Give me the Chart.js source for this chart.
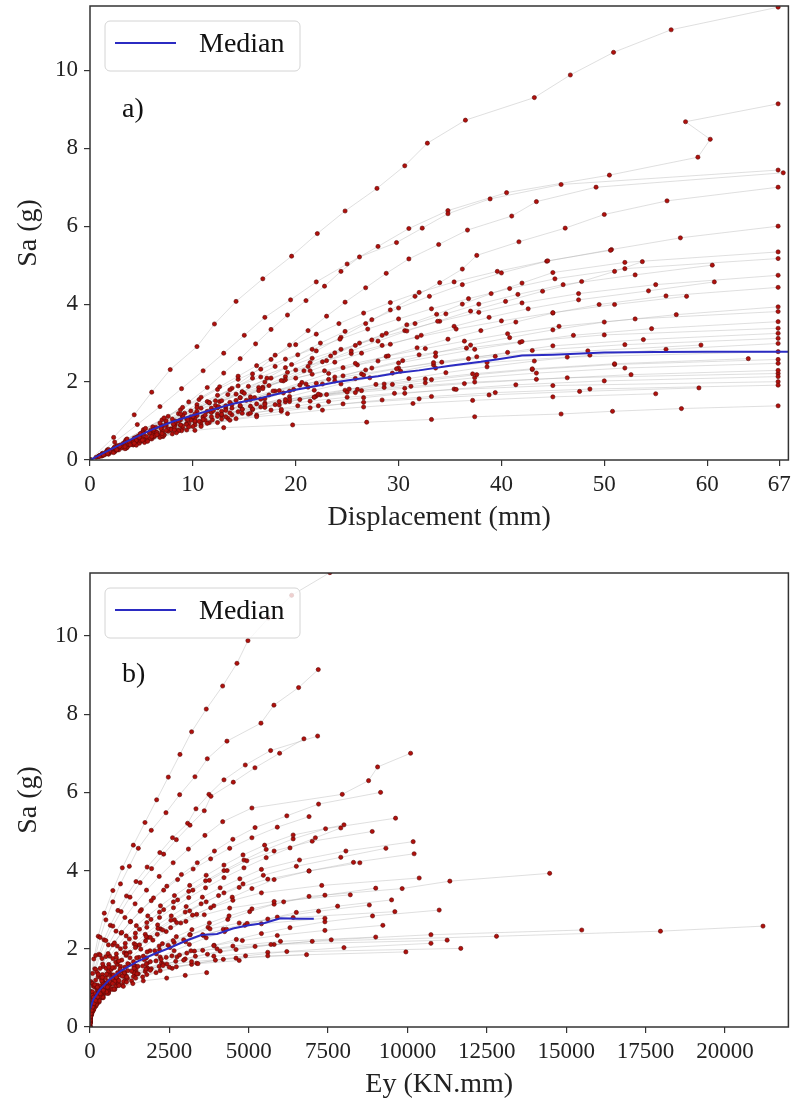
<!doctype html>
<html lang="en">
<head>
<meta charset="utf-8">
<title>IDA curves</title>
<style>
  body { margin: 0; background: #fff; }
  #caixa { position: relative; width: 793px; height: 1101px; }
  canvas { position: absolute; left: 0; }
</style>
</head>
<body>
<div id="caixa">
  <canvas id="grafico-desl" width="793" height="540" style="top:0"></canvas>
  <canvas id="grafico-energia" width="793" height="561" style="top:540px"></canvas>
</div>

<script src="https://cdn.jsdelivr.net/npm/chart.js"></script>
<script>
// Sa levels of each record (g)
const saLevels = [
  [0,.58,1.16,1.74,2.32,2.91,3.49,4.07,4.65,5.23,5.81,6.39,6.97,7.55,8.13,8.72,9.3,9.88,10.46,11.04,11.62],
  [0,.46,.91,1.37,1.83,2.29,2.74,3.2,3.66,4.11,4.57,5.03,5.48,5.94,6.4,6.86,7.31,7.77,8.23,8.68,9.14],
  [0,.37,.74,1.12,1.49,1.86,2.23,2.6,2.98,3.35,3.72,4.09,4.46,4.84,5.21,5.58,5.95,6.32,6.7,7.07,7.44],
  [0,.37,.74,1.11,1.47,1.84,2.21,2.58,2.95,3.32,3.69,4.05,4.42,4.79,5.16,5.53,5.9,6.26,6.63,7.0,7.37],
  [0,.35,.7,1.05,1.4,1.75,2.1,2.45,2.8,3.15,3.5,3.85,4.2,4.55,4.9,5.25,5.6,5.95,6.3,6.65,7.0],
  [0,.3,.6,.9,1.2,1.5,1.8,2.1,2.4,2.7,3.0,3.3,3.6,3.9,4.2,4.5,4.8,5.1,5.4,5.7,6.0],
  [0,.27,.53,.8,1.07,1.34,1.6,1.87,2.14,2.4,2.67,2.94,3.2,3.47,3.74,4.0,4.27,4.54,4.81,5.07,5.34],
  [0,.26,.52,.78,1.03,1.29,1.55,1.81,2.07,2.33,2.59,2.84,3.1,3.36,3.62,3.88,4.14,4.4,4.65,4.91,5.17],
  [0,.25,.5,.75,1.0,1.25,1.5,1.75,2.0,2.25,2.5,2.75,3.0,3.25,3.5,3.75,4.0,4.25,4.5,4.75,5.0],
  [0,.23,.46,.69,.91,1.14,1.37,1.6,1.83,2.06,2.29,2.51,2.74,2.97,3.2,3.43,3.66,3.88,4.11,4.34,4.57],
  [0,.24,.47,.71,.95,1.19,1.42,1.66,1.9,2.13,2.37,2.61,2.84,3.08,3.32,3.56,3.79,4.03,4.27,4.5,4.74],
  [0,.22,.44,.66,.89,1.11,1.33,1.55,1.77,1.99,2.22,2.44,2.66,2.88,3.1,3.32,3.54,3.77,3.99,4.21,4.43],
  [0,.21,.42,.63,.84,1.05,1.26,1.47,1.68,1.89,2.1,2.31,2.52,2.73,2.94,3.15,3.36,3.57,3.78,3.99,4.2],
  [0,.2,.39,.59,.79,.98,1.18,1.38,1.57,1.77,1.97,2.16,2.36,2.55,2.75,2.95,3.14,3.34,3.54,3.73,3.93],
  [0,.19,.38,.57,.76,.95,1.14,1.33,1.52,1.71,1.91,2.1,2.29,2.48,2.67,2.86,3.05,3.24,3.43,3.62,3.81],
  [0,.18,.36,.53,.71,.89,1.07,1.24,1.42,1.6,1.78,1.95,2.13,2.31,2.49,2.66,2.84,3.02,3.2,3.37,3.55],
  [0,.17,.34,.51,.68,.85,1.01,1.18,1.35,1.52,1.69,1.86,2.03,2.2,2.37,2.54,2.7,2.87,3.04,3.21,3.38],
  [0,.16,.33,.49,.65,.81,.98,1.14,1.3,1.46,1.63,1.79,1.95,2.11,2.28,2.44,2.6,2.76,2.93,3.09,3.25],
  [0,.15,.3,.44,.59,.74,.89,1.03,1.18,1.33,1.48,1.62,1.77,1.92,2.07,2.21,2.36,2.51,2.66,2.8,2.95],
  [0,.16,.31,.47,.62,.78,.94,1.09,1.25,1.4,1.56,1.72,1.87,2.03,2.18,2.34,2.5,2.65,2.81,2.96,3.12],
  [0,.15,.3,.45,.6,.75,.9,1.05,1.2,1.35,1.5,1.64,1.79,1.94,2.09,2.24,2.39,2.54,2.69,2.84,2.99],
  [0,.14,.28,.42,.56,.7,.83,.97,1.11,1.25,1.39,1.53,1.67,1.81,1.95,2.09,2.23,2.36,2.5,2.64,2.78],
  [0,.12,.25,.37,.5,.62,.74,.87,.99,1.12,1.24,1.36,1.49,1.61,1.74,1.86,1.98,2.11,2.23,2.36,2.48],
  [0,.13,.26,.39,.52,.65,.77,.9,1.03,1.16,1.29,1.42,1.55,1.68,1.81,1.94,2.06,2.19,2.32,2.45,2.58],
  [0,.11,.22,.33,.44,.56,.67,.78,.89,1.0,1.11,1.22,1.33,1.44,1.55,1.67,1.78,1.89,2.0,2.11,2.22],
  [0,.11,.21,.32,.43,.54,.64,.75,.86,.96,1.07,1.18,1.28,1.39,1.5,1.6,1.71,1.82,1.93,2.03,2.14],
  [0,.1,.2,.3,.4,.5,.6,.7,.8,.9,1.0,1.11,1.21,1.31,1.41,1.51,1.61,1.71,1.81,1.91,2.01],
  [0,.1,.19,.29,.38,.48,.58,.67,.77,.86,.96,1.06,1.15,1.25,1.34,1.44,1.54,1.63,1.73,1.82,1.92],
  [0,.07,.14,.21,.28,.35,.42,.49,.56,.63,.7,.76,.83,.9,.97,1.04,1.11,1.18,1.25,1.32,1.39],
  [0,.27,.54,.81,1.08,1.35,1.61,1.88,2.15,2.42,2.69,2.96,3.23,3.5,3.77,4.04,4.3,4.57,4.84,5.11,5.38],
  [0,.25,.51,.76,1.02,1.27,1.53,1.78,2.04,2.29,2.55,2.8,3.05,3.31,3.56,3.82,4.07,4.33,4.58,4.84,5.09],
  [0,.09,.19,.28,.37,.46,.56,.65,.74,.83,.93,1.02,1.11,1.2,1.3,1.39,1.48,1.57,1.67,1.76,1.85],
  [0,.12,.23,.35,.46,.58,.69,.81,.92,1.04,1.15,1.27,1.38,1.5,1.61,1.73,1.84,1.96,2.07,2.19,2.3],
  [0,.13,.26,.39,.52,.65,.78,.91,1.04,1.17,1.3,1.43,1.56,1.69,1.82,1.95,2.08,2.21,2.34,2.47,2.6],
  [0,.09,.17,.26,.34,.43,.51,.6,.68,.77,.85,.94,1.02,1.11,1.19,1.28,1.36,1.45,1.53,1.62,1.7]
];

// displacement of each record at those levels (mm)
const dispValues = [
  [0,2.3,4.3,6.0,7.8,10.4,12.1,14.2,16.8,19.6,22.1,24.8,27.9,30.6,32.8,36.5,43.2,46.7,50.9,56.5,66.9],
  [0,2.4,4.6,6.8,8.9,11.0,13.0,15.0,17.0,19.5,22.0,25.0,28.0,31.0,34.8,40.5,50.5,59.1,60.3,57.9,66.9],
  [0,2.6,5.2,7.6,9.6,11.4,13.0,14.6,16.1,17.6,19.2,21.0,22.8,24.4,26.2,29.8,32.3,34.8,38.9,45.8,66.9],
  [0,3.1,6.2,9.0,11.6,13.8,15.8,17.6,19.4,21.2,23.0,24.8,26.8,28.8,31.0,33.9,36.7,41.0,43.4,49.2,67.4],
  [0,3.2,6.4,9.4,12.2,14.8,17.2,19.6,22.0,24.4,26.8,29.2,31.6,34.0,36.2,37.6,41.7,46.2,50.0,56.1,66.9],
  [0,2.3,4.6,6.9,9.2,11.4,13.6,15.8,18.0,20.2,22.4,24.8,27.4,30.0,33.0,36.2,40.0,44.4,50.7,57.4,66.9],
  [0,2.7,5.3,7.9,10.2,12.4,14.6,16.8,19.0,21.2,23.4,25.8,28.4,30.8,33.7,36.2,39.0,42.0,45.0,52.0,66.9],
  [0,1.7,3.5,5.2,7.0,8.8,10.6,12.4,14.4,16.6,19.0,21.6,24.3,27.0,30.0,33.2,36.8,40.8,45.2,52.0,66.9],
  [0,2.1,4.2,6.2,8.3,10.4,12.6,14.8,17.0,19.2,21.4,23.8,26.2,28.8,31.6,34.6,37.8,41.6,46.0,53.0,60.5],
  [0,2.1,4.2,6.3,8.3,10.4,12.5,14.6,16.8,19.0,21.4,23.8,26.4,29.2,32.2,35.4,38.8,42.6,47.5,54.3,60.7],
  [0,1.7,3.4,5.1,6.8,8.6,10.4,12.4,14.4,16.6,19.0,21.6,24.4,27.4,30.6,34.0,37.8,42.0,47.5,55.0,66.9],
  [0,2.2,4.4,6.6,8.8,11.0,13.2,15.6,18.0,20.6,23.2,26.0,28.8,31.8,34.8,38.0,41.4,45.0,49.5,56.0,66.9],
  [0,1.6,3.2,4.8,6.4,8.0,9.8,11.6,13.4,15.4,17.6,20.0,22.6,25.4,28.4,31.8,35.6,40.0,45.0,51.0,58.0],
  [0,2.1,4.2,6.2,8.2,10.2,12.4,14.6,17.0,19.4,22.0,24.6,27.4,30.4,33.6,37.0,40.8,45.0,50.0,57.0,66.9],
  [0,1.5,2.9,4.4,5.9,7.4,9.0,10.8,12.8,15.0,17.4,20.0,22.8,25.8,29.0,32.6,36.4,40.6,45.6,53.0,66.9],
  [0,1.6,3.3,4.9,6.5,8.2,9.9,11.8,13.8,16.0,18.4,21.0,23.8,26.8,30.0,33.6,37.4,41.8,47.0,54.6,66.9],
  [0,1.2,2.4,3.6,4.9,6.1,7.4,8.8,10.4,12.2,14.2,16.4,18.8,21.6,24.6,28.0,32.0,36.6,42.0,50.0,66.9],
  [0,1.8,3.6,5.4,7.2,9.0,10.8,12.8,14.8,17.0,19.4,21.8,24.4,27.2,30.2,33.4,36.8,40.6,45.0,53.8,66.9],
  [0,1.2,2.5,3.7,4.9,6.2,7.4,8.8,10.2,11.8,13.6,15.6,17.8,20.4,23.2,26.4,30.0,34.2,39.4,48.4,59.4],
  [0,1.6,3.1,4.7,6.2,7.8,9.4,11.0,12.8,14.6,16.6,18.8,21.2,23.8,26.6,29.8,33.4,37.6,43.0,52.0,66.9],
  [0,1.8,3.5,5.3,7.1,8.9,10.8,12.8,14.8,17.0,19.4,22.0,24.8,27.8,31.0,34.6,38.6,43.2,48.6,56.0,66.9],
  [0,1.2,2.3,3.5,4.6,5.8,7.0,8.3,9.8,11.4,13.2,15.2,17.4,19.8,22.6,25.8,29.4,33.6,38.6,46.4,66.9],
  [0,1.2,2.5,3.7,5.0,6.3,7.6,9.0,10.6,12.4,14.4,16.6,19.0,21.8,25.0,28.6,32.6,37.4,43.4,52.0,66.9],
  [0,1.4,2.8,4.2,5.6,7.1,8.6,10.2,11.9,13.8,15.8,18.0,20.4,23.0,26.0,29.4,33.2,37.6,43.0,51.0,66.9],
  [0,.9,1.7,2.6,3.4,4.3,5.2,6.2,7.3,8.6,10.0,11.8,13.8,16.2,19.0,22.4,26.4,31.2,37.4,46.4,66.9],
  [0,1.2,2.4,3.6,4.8,6.0,7.2,8.6,10.0,11.6,13.4,15.4,17.6,20.2,23.2,26.6,30.6,35.4,41.4,50.0,66.9],
  [0,.9,1.8,2.7,3.6,4.5,5.5,6.5,7.6,8.8,10.2,11.8,13.6,15.8,18.4,21.4,25.0,29.6,35.6,45.0,66.9],
  [0,1.1,2.3,3.4,4.5,5.6,6.8,8.0,9.4,10.8,12.4,14.2,16.2,18.6,21.4,24.6,28.4,33.2,39.4,48.6,66.9],
  [0,.6,1.2,1.8,2.5,3.2,4.0,4.9,5.9,7.0,8.4,10.2,13.0,19.7,26.9,33.2,37.4,45.8,50.8,57.5,66.9],
  [0,1.8,3.6,5.4,7.2,9.0,10.8,12.6,14.4,16.2,18.0,20.0,22.0,24.2,26.6,29.2,32.0,35.4,39.6,44.5,50.6],
  [0,2.5,5.0,7.4,9.8,12.0,14.2,16.4,18.6,20.8,23.0,25.4,28.0,30.8,33.8,37.0,40.4,44.0,47.8,51.0,53.7],
  [0,.8,1.7,2.5,3.4,4.2,5.1,6.0,7.0,8.2,9.6,11.2,13.2,15.6,18.6,22.2,26.6,32.0,38.8,47.6,59.2],
  [0,1.0,1.9,2.9,3.8,4.8,5.8,6.9,8.1,9.5,11.2,13.2,15.6,18.4,21.8,25.8,30.6,36.4,43.4,52.6,66.9],
  [0,1.3,2.6,3.9,5.2,6.5,7.9,9.4,11.0,12.8,14.8,17.0,19.4,22.2,25.2,28.6,32.6,37.2,43.0,51.0,64.0],
  [0,.9,1.7,2.6,3.4,4.3,5.1,6.0,7.0,8.2,9.6,11.4,13.6,16.2,19.2,22.6,26.6,31.4,37.2,45.0,55.0]
];

// hysteretic energy of each record at those levels (KN.mm)
const eyValues = [
  [0,0,30,120,260,450,720,1018,1365,1732,2099,2467,2834,3201,3663,4178,4629,4975,5620,6352,7557],
  [0,0,20,80,180,320,500,720,960,1239,1522,1931,2393,2824,3306,3695,4314,5385,5794,6571,7190],
  [0,0,15,60,150,280,440,640,880,1150,1450,1800,2200,2600,3075,3338,3747,4220,4892,5690,7170],
  [0,0,20,80,180,320,500,720,980,1260,1580,1940,2320,2720,3150,3600,3810,4514,5196,5973,6739],
  [0,0,25,100,220,380,580,820,1100,1420,1780,2180,2620,3100,3620,4180,5100,7946,8775,9059,10098],
  [0,0,20,80,180,320,500,720,980,1280,1620,2000,2420,2880,3380,3920,4500,5200,6200,7200,9153],
  [0,0,30,110,230,390,590,830,1110,1430,1790,2190,2630,3110,3640,4220,4850,5550,6400,7421,9625],
  [0,0,15,60,140,260,420,620,860,1140,1460,1820,2220,2660,3140,3660,4220,4820,5500,6400,8000],
  [0,0,25,90,200,340,510,720,960,1240,1560,1920,2320,2760,3240,3760,4320,4940,5800,7000,8890],
  [0,0,35,120,250,420,620,860,1140,1460,1820,2220,2660,3140,3660,4220,4820,5460,6500,7900,9321],
  [0,0,30,110,230,390,580,810,1080,1390,1740,2130,2560,3030,3540,4100,4720,5400,6600,8061,10180],
  [0,0,40,140,290,480,700,960,1260,1600,1980,2400,2860,3360,3900,4480,5100,5800,6900,8300,10210],
  [0,0,25,90,190,320,480,670,890,1150,1440,1770,2140,2550,3000,3500,4050,4700,5600,6900,8500],
  [0,0,45,160,330,540,790,1080,1410,1780,2190,2650,3160,3720,4340,5030,5800,6900,9833,11335,14480],
  [0,0,20,70,150,260,400,570,770,1000,1260,1560,1900,2290,2730,3230,3800,4500,5400,7300,10370],
  [0,0,30,100,210,350,520,720,960,1230,1540,1890,2280,2720,3210,3760,4380,5100,6100,7400,9000],
  [0,0,10,40,90,160,250,370,520,700,910,1150,1430,1750,2120,2540,3020,3600,4400,5800,8200],
  [0,0,35,120,250,410,610,850,1130,1450,1810,2210,2650,3130,3660,4240,4880,5600,6500,7800,9500],
  [0,0,15,50,110,190,290,410,560,740,950,1190,1470,1800,2180,2620,3140,3780,4700,6400,9603],
  [0,0,25,80,170,290,440,620,840,1090,1380,1710,2090,2520,3010,3570,4200,4950,5900,7200,8800],
  [0,0,30,110,230,390,590,830,1110,1440,1820,2250,2740,3290,3910,4610,5400,6300,7400,8900,11000],
  [0,0,10,40,90,160,250,360,500,670,870,1100,1370,1680,2040,2460,2950,3550,4300,5400,7400],
  [0,0,15,55,120,210,330,480,670,900,1180,1520,1930,2420,3000,3700,4600,5800,7600,10740,15490],
  [0,0,20,70,150,260,400,580,800,1060,1370,1740,2180,2700,3320,4100,5200,7000,12805,17970,21200],
  [0,0,5,20,50,90,140,210,300,410,550,720,930,1190,1510,1900,2400,3050,4000,5700,11250],
  [0,0,15,50,110,190,290,420,580,780,1020,1310,1660,2080,2590,3200,3950,4900,6200,8000,10740],
  [0,0,5,20,45,80,130,190,270,370,500,660,860,1110,1420,1800,2300,2950,3900,5600,11680],
  [0,0,10,35,75,130,200,290,400,540,710,910,1150,1440,1790,2210,2720,3360,4200,5600,9950],
  [0,0,0,5,10,20,35,55,85,120,170,240,340,520,760,1050,1350,1679,2415,3000,3675],
  [0,0,20,70,150,260,400,570,770,1000,1270,1580,1930,2320,2760,3250,3800,4400,5100,5900,6900],
  [0,0,30,110,230,390,590,830,1110,1430,1790,2190,2630,3110,3640,4220,4850,5550,6300,7100,7900],
  [0,0,5,15,35,60,95,140,200,280,380,500,650,840,1080,1380,1760,2300,3200,4600,6822],
  [0,0,8,25,55,100,160,240,340,470,630,830,1080,1390,1770,2240,2820,3550,4500,6000,9000],
  [0,0,15,50,110,190,290,420,580,780,1020,1310,1660,2080,2580,3180,3900,4800,5900,7400,9225],
  [0,0,5,15,30,55,85,125,175,240,320,420,550,710,910,1160,1480,1900,2500,3400,4700]
];

// median curves
const medianDisp   = [0,2,4,6,8,10,12,14,16,18,20,22,24,26,28,30,32,35,38,40,42,45,50,55,60,67.9];
const medianSaDisp = [0,.27,.53,.78,.98,1.15,1.3,1.45,1.55,1.68,1.8,1.9,2.0,2.08,2.15,2.24,2.3,2.42,2.52,2.6,2.68,2.7,2.76,2.77,2.78,2.78];
const medianEy     = [0,100,300,600,1000,1500,2000,2500,3000,3500,4000,4500,5000,5500,6000,6500,7050];
const medianSaEy   = [.45,.7,.95,1.2,1.45,1.68,1.86,2.02,2.2,2.35,2.38,2.52,2.6,2.66,2.78,2.77,2.77];

// tick labels
const saTicks   = [0, 2, 4, 6, 8, 10];
const dispTicks = [0, 10, 20, 30, 40, 50, 60, 67];
const eyTicks   = [0, 2500, 5000, 7500, 10000, 12500, 15000, 17500, 20000];

const corMediana = '#2b2bc2';
const fonte = '"Liberation Serif", "Times New Roman", serif';

Chart.defaults.font.family = fonte;
Chart.defaults.color = '#222';

// frame, legend box and panel label
const moldura = {
  id: 'moldura',
  afterDraw(chart, args, opts) {
    const ctx = chart.ctx;
    const a = chart.chartArea;
    ctx.save();
    ctx.strokeStyle = '#333';
    ctx.lineWidth = 1.5;
    ctx.strokeRect(a.left, a.top, a.right - a.left, a.bottom - a.top);

    const bx = a.left + 15, by = a.top + 15;
    ctx.beginPath();
    ctx.roundRect(bx, by, 195, 50, 5);
    ctx.fillStyle = 'rgba(255,255,255,0.8)';
    ctx.fill();
    ctx.strokeStyle = '#d4d4d4';
    ctx.lineWidth = 1;
    ctx.stroke();

    ctx.strokeStyle = corMediana;
    ctx.lineWidth = 2;
    ctx.beginPath();
    ctx.moveTo(bx + 10, by + 22);
    ctx.lineTo(bx + 71, by + 22);
    ctx.stroke();

    ctx.fillStyle = '#111';
    ctx.font = '28px ' + fonte;
    ctx.textBaseline = 'middle';
    ctx.fillText('Median', bx + 94, by + 24);
    ctx.fillText(opts.label, a.left + 32, chart.scales.y.getPixelForValue(9.0));
    ctx.restore();
  }
};

function montaGrafico(id, xValues, cfg) {
  const linhas = saLevels.map((sa, i) => ({
    data: sa.map((v, k) => ({ x: xValues[i][k], y: v })),
    showLine: true,
    borderColor: 'rgba(175,175,175,0.4)',
    borderWidth: 1,
    pointRadius: 0,
    order: 2
  }));

  const pontos = {
    data: linhas.flatMap(d => d.data),
    showLine: false,
    pointRadius: 2.1,
    pointBackgroundColor: '#b0100c',
    pointBorderColor: '#5e0806',
    pointBorderWidth: 0.6,
    order: 1
  };

  const mediana = {
    data: cfg.medX.map((v, k) => ({ x: v, y: cfg.medY[k] })),
    showLine: true,
    borderColor: corMediana,
    borderWidth: 2,
    pointRadius: 0,
    order: 0
  };

  new Chart(document.getElementById(id), {
    type: 'scatter',
    data: { datasets: [...linhas, pontos, mediana] },
    plugins: [moldura],
    options: {
      responsive: false,
      animation: false,
      devicePixelRatio: 1,
      events: [],
      layout: { padding: { top: cfg.padTop, right: 4, left: 0, bottom: 0 } },
      plugins: {
        legend: { display: false },
        tooltip: { enabled: false },
        moldura: { label: cfg.label }
      },
      scales: {
        x: {
          type: 'linear',
          min: 0,
          max: cfg.xMax,
          afterBuildTicks: s => { s.ticks = cfg.xTicks.map(v => ({ value: v })); },
          afterFit: s => { s.height = cfg.xHeight; s.paddingLeft = 0; s.paddingRight = 0; },
          ticks: { callback: v => String(v), font: { size: 23 }, color: '#222', padding: 5, maxRotation: 0, autoSkip: false },
          grid: { drawOnChartArea: false, drawTicks: true, tickLength: 6, color: '#333', lineWidth: 1.2 },
          border: { display: false },
          title: { display: true, text: cfg.xTitle, font: { size: 28 }, color: '#222', padding: { top: 2, bottom: cfg.titlePad } }
        },
        y: {
          type: 'linear',
          min: 0,
          max: cfg.yMax,
          afterBuildTicks: s => { s.ticks = saTicks.map(v => ({ value: v })); },
          afterFit: s => { s.width = 90; s.paddingTop = 0; s.paddingBottom = 0; },
          ticks: { callback: v => String(v), font: { size: 23 }, color: '#222', padding: 6 },
          grid: { drawOnChartArea: false, drawTicks: true, tickLength: 6, color: '#333', lineWidth: 1.2 },
          border: { display: false },
          title: { display: true, text: 'Sa (g)', font: { size: 28 }, color: '#222', padding: { top: 12, bottom: 0 } }
        }
      }
    }
  });
}

montaGrafico('grafico-desl', dispValues, {
  xMax: 67.9, yMax: 11.65, xTicks: dispTicks, xTitle: 'Displacement (mm)',
  medX: medianDisp, medY: medianSaDisp, label: 'a)', padTop: 6, xHeight: 80, titlePad: 6
});

montaGrafico('grafico-energia', eyValues, {
  xMax: 22000, yMax: 11.61, xTicks: eyTicks, xTitle: 'Ey (KN.mm)',
  medX: medianEy, medY: medianSaEy, label: 'b)', padTop: 33, xHeight: 74, titlePad: 0
});
</script>
</body>
</html>
